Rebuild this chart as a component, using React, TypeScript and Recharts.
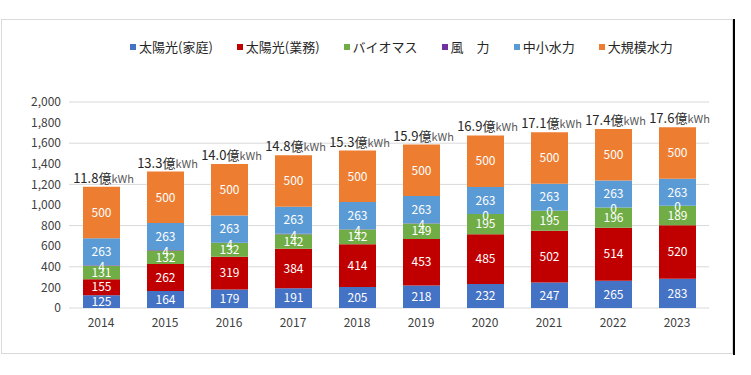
import React from "react";
import { BarChart, Bar, XAxis, YAxis, CartesianGrid, Legend, LabelList } from "recharts";

const years = ["2014", "2015", "2016", "2017", "2018", "2019", "2020", "2021", "2022", "2023"];
const solarHome = [125, 164, 179, 191, 205, 218, 232, 247, 265, 283];
const solarBusiness = [155, 262, 319, 384, 414, 453, 485, 502, 514, 520];
const biomass = [131, 132, 132, 142, 142, 149, 195, 195, 196, 189];
const wind = [4, 4, 4, 4, 4, 4, 0, 0, 0, 0];
const smallHydro = [263, 263, 263, 263, 263, 263, 263, 263, 263, 263];
const largeHydro = [500, 500, 500, 500, 500, 500, 500, 500, 500, 500];
const totals = ["11.8", "13.3", "14.0", "14.8", "15.3", "15.9", "16.9", "17.1", "17.4", "17.6"];
const yTicks = [0, 200, 400, 600, 800, 1000, 1200, 1400, 1600, 1800, 2000];

const series = [
  { key: "solarHome", name: "太陽光(家庭)", color: "#4472C4" },
  { key: "solarBusiness", name: "太陽光(業務)", color: "#C00000" },
  { key: "biomass", name: "バイオマス", color: "#70AD47" },
  { key: "wind", name: "風　力", color: "#7030A0" },
  { key: "smallHydro", name: "中小水力", color: "#5B9BD5" },
  { key: "largeHydro", name: "大規模水力", color: "#ED7D31" },
];

const data = years.map((year, i) => ({
  year,
  solarHome: solarHome[i],
  solarBusiness: solarBusiness[i],
  biomass: biomass[i],
  wind: wind[i],
  smallHydro: smallHydro[i],
  largeHydro: largeHydro[i],
  total: totals[i],
}));

const FONT = '"Noto Sans CJK JP", "Noto Sans", sans-serif';

function TotalLabel(props: any) {
  const { x, y, width, value } = props;
  return (
    <text x={x + width / 2 + 2} y={y - 4} textAnchor="middle" fontFamily={FONT}>
      <tspan fontSize={13} fill="#262626">{value}億</tspan>
      <tspan fontSize={11} fill="#595959">kWh</tspan>
    </text>
  );
}

// wind is only a sliver (or zero), so its label sits on top of the biomass block
function WindLabel(props: any) {
  const { x, y, width, value } = props;
  return (
    <text
      x={x + width / 2}
      y={y}
      textAnchor="middle"
      dominantBaseline="central"
      fill="#fff"
      fontSize={12}
      fontFamily={FONT}
    >
      {value}
    </text>
  );
}

function LegendRow() {
  return (
    <div style={{ display: "flex", fontFamily: FONT, fontSize: 13, color: "#262626", lineHeight: "16px" }}>
      {series.map((s) => (
        <div key={s.key} style={{ display: "flex", alignItems: "center", marginRight: 24 }}>
          <span style={{ width: 6, height: 6, background: s.color, marginRight: 3, display: "inline-block" }} />
          <span>{s.name}</span>
        </div>
      ))}
    </div>
  );
}

export default function App() {
  return (
    <div style={{ position: "absolute", left: 0, top: 0, width: 751, height: 375, background: "#fff" }}>
      <div
        style={{
          position: "absolute",
          left: 1,
          top: 19,
          width: 730,
          height: 333,
          border: "1px solid #d9d9d9",
        }}
      />
      <div style={{ position: "absolute", left: 733, top: 19, width: 2, height: 336, background: "#000" }} />
      <div style={{ position: "absolute", left: 0, top: 0 }}>
        <BarChart
          width={751}
          height={375}
          data={data}
          margin={{ top: 86, right: 42, bottom: 37, left: 9 }}
        >
          <CartesianGrid vertical={false} stroke="#d9d9d9" />
          <XAxis
            dataKey="year"
            axisLine={false}
            tickLine={false}
            tickMargin={4}
            height={30}
            tick={{ fontSize: 12, fill: "#404040", fontFamily: FONT }}
          />
          <YAxis
            domain={[0, 2000]}
            ticks={yTicks}
            width={60}
            axisLine={false}
            tickLine={false}
            tickMargin={2}
            tickFormatter={(v: number) => v.toLocaleString("en-US")}
            tick={{ fontSize: 12, fill: "#404040", fontFamily: FONT }}
          />
          <Legend
            verticalAlign="top"
            content={() => <LegendRow />}
            wrapperStyle={{ top: 39, left: 130, width: 610 }}
          />
          {series.map((s) => (
            <Bar
              key={s.key}
              dataKey={s.key}
              name={s.name}
              stackId="a"
              fill={s.color}
              barSize={37}
              isAnimationActive={false}
            >
              {s.key !== "wind" && (
                <LabelList
                  dataKey={s.key}
                  position="center"
                  fill="#fff"
                  fontSize={12}
                  fontFamily={FONT}
                />
              )}
              {s.key === "biomass" && <LabelList dataKey="wind" content={WindLabel} />}
              {s.key === "largeHydro" && <LabelList dataKey="total" content={TotalLabel} />}
            </Bar>
          ))}
        </BarChart>
      </div>
    </div>
  );
}
